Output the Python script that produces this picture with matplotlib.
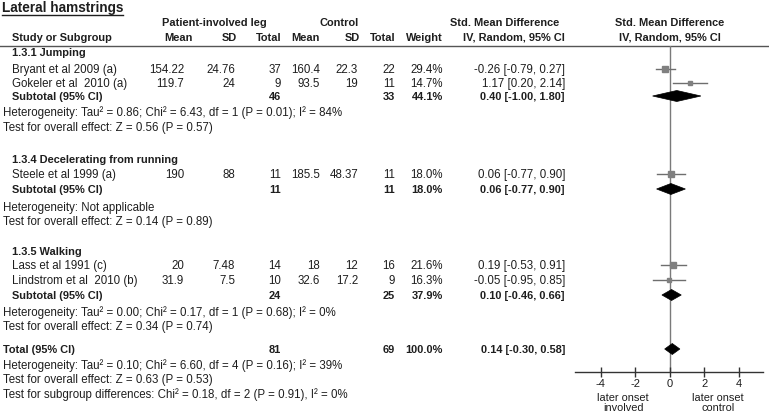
import numpy as np
import matplotlib.pyplot as plt
from matplotlib.patches import Polygon

plt.rcParams['font.family'] = ['Liberation Sans', 'DejaVu Sans']

# ---- data ----
study_names = ["Bryant et al 2009 (a)", "Gokeler et al  2010 (a)", "Steele et al 1999 (a)",
               "Lass et al 1991 (c)", "Lindstrom et al  2010 (b)"]
pat_mean = ["154.22", "119.7", "190", "20", "31.9"]
pat_sd = ["24.76", "24", "88", "7.48", "7.5"]
pat_n = [37, 9, 11, 14, 10]
ctl_mean = ["160.4", "93.5", "185.5", "18", "32.6"]
ctl_sd = ["22.3", "19", "48.37", "12", "17.2"]
ctl_n = [22, 11, 11, 16, 9]
weight = [29.4, 14.7, 18.0, 21.6, 16.3]
smd = [-0.26, 1.17, 0.06, 0.19, -0.05]
smd_lo = [-0.79, 0.20, -0.77, -0.53, -0.95]
smd_hi = [0.27, 2.14, 0.90, 0.91, 0.85]

sub_names = ["1.3.1 Jumping", "1.3.4 Decelerating from running", "1.3.5 Walking"]
sub_pat_n = [46, 11, 24]
sub_ctl_n = [33, 11, 25]
sub_weight = [44.1, 18.0, 37.9]
sub_smd = [0.40, 0.06, 0.10]
sub_lo = [-1.00, -0.77, -0.46]
sub_hi = [1.80, 0.90, 0.66]
sub_het = ["Heterogeneity: Tau\u00b2 = 0.86; Chi\u00b2 = 6.43, df = 1 (P = 0.01); I\u00b2 = 84%",
           "Heterogeneity: Not applicable",
           "Heterogeneity: Tau\u00b2 = 0.00; Chi\u00b2 = 0.17, df = 1 (P = 0.68); I\u00b2 = 0%"]
sub_z = ["Test for overall effect: Z = 0.56 (P = 0.57)",
         "Test for overall effect: Z = 0.14 (P = 0.89)",
         "Test for overall effect: Z = 0.34 (P = 0.74)"]

tot_pat_n, tot_ctl_n, tot_weight = 81, 69, 100.0
tot_smd, tot_lo, tot_hi = 0.14, -0.30, 0.58
tot_notes = ["Heterogeneity: Tau\u00b2 = 0.10; Chi\u00b2 = 6.60, df = 4 (P = 0.16); I\u00b2 = 39%",
             "Test for overall effect: Z = 0.63 (P = 0.53)",
             "Test for subgroup differences: Chi\u00b2 = 0.18, df = 2 (P = 0.91), I\u00b2 = 0%"]

ticks = [-4, -2, 0, 2, 4]
favours = ["later onset\ninvolved", "later onset\ncontrol"]

# ---- layout (pixel rows) ----
sub_head_y = [53, 160, 252]
study_y = [70, 84, 175, 266, 281]
sub_tot_y = [97, 190, 296]
sub_het_y = [113, 208, 313]
sub_z_y = [128, 222, 327]
tot_y = 350
tot_notes_y = [366, 380, 395]

TXT = '#1e1e1e'
FS = 8.3
FSB = 7.9
col_x = dict(pmean=184, psd=235, pn=281, cmean=320, csd=358, cn=395, w=443, ci=565)

fig = plt.figure(figsize=(7.69, 4.14), dpi=100)
ax = fig.add_axes([0, 0, 1, 1])
ax.set_xlim(0, 769)
ax.set_ylim(414, 0)
ax.axis('off')


def t(x, y, s, ha='left', bold=False):
    ax.text(x, y, s, ha=ha, va='center', fontsize=FSB if bold else FS, color=TXT,
            fontweight='bold' if bold else 'normal')


# title with underline
title = ax.text(2, 8, "Lateral hamstrings", ha='left', va='center', fontsize=9.8,
                fontweight='bold', color=TXT)
fig.canvas.draw()
bb = title.get_window_extent(fig.canvas.get_renderer())
ax.plot([2, 2 + bb.width], [15.5, 15.5], color=TXT, lw=1.0)

# headers
t(214, 23, "Patient-involved leg", ha='center', bold=True)
t(339, 23, "Control", ha='center', bold=True)
t(505, 23, "Std. Mean Difference", ha='center', bold=True)
t(670, 23, "Std. Mean Difference", ha='center', bold=True)
t(12, 38, "Study or Subgroup", bold=True)
t(193, 38, "Mean", ha='right', bold=True)
t(237, 38, "SD", ha='right', bold=True)
t(282, 38, "Total", ha='right', bold=True)
t(320, 38, "Mean", ha='right', bold=True)
t(360, 38, "SD", ha='right', bold=True)
t(395, 38, "Total", ha='right', bold=True)
t(443, 38, "Weight", ha='right', bold=True)
t(565, 38, "IV, Random, 95% CI", ha='right', bold=True)
t(670, 38, "IV, Random, 95% CI", ha='center', bold=True)
ax.axhline(46.5, color='#555555', lw=1.0)

# studies
for i, y in enumerate(study_y):
    t(12, y, study_names[i])
    t(col_x['pmean'], y, pat_mean[i], ha='right')
    t(col_x['psd'], y, pat_sd[i], ha='right')
    t(col_x['pn'], y, str(pat_n[i]), ha='right')
    t(col_x['cmean'], y, ctl_mean[i], ha='right')
    t(col_x['csd'], y, ctl_sd[i], ha='right')
    t(col_x['cn'], y, str(ctl_n[i]), ha='right')
    t(col_x['w'], y, f"{weight[i]:.1f}%", ha='right')
    t(col_x['ci'], y, f"{smd[i]:.2f} [{smd_lo[i]:.2f}, {smd_hi[i]:.2f}]", ha='right')

# subgroups
for g in range(len(sub_names)):
    t(12, sub_head_y[g], sub_names[g], bold=True)
    y = sub_tot_y[g]
    t(12, y, "Subtotal (95% CI)", bold=True)
    t(col_x['pn'], y, str(sub_pat_n[g]), ha='right', bold=True)
    t(col_x['cn'], y, str(sub_ctl_n[g]), ha='right', bold=True)
    t(col_x['w'], y, f"{sub_weight[g]:.1f}%", ha='right', bold=True)
    t(col_x['ci'], y, f"{sub_smd[g]:.2f} [{sub_lo[g]:.2f}, {sub_hi[g]:.2f}]", ha='right', bold=True)
    t(3, sub_het_y[g], sub_het[g])
    t(3, sub_z_y[g], sub_z[g])

# total
t(3, tot_y, "Total (95% CI)", bold=True)
t(col_x['pn'], tot_y, str(tot_pat_n), ha='right', bold=True)
t(col_x['cn'], tot_y, str(tot_ctl_n), ha='right', bold=True)
t(col_x['w'], tot_y, f"{tot_weight:.1f}%", ha='right', bold=True)
t(col_x['ci'], tot_y, f"{tot_smd:.2f} [{tot_lo:.2f}, {tot_hi:.2f}]", ha='right', bold=True)
for s, y in zip(tot_notes, tot_notes_y):
    t(3, y, s)

# ---- forest plot ----
fx0, fx1, fy0, fy1 = 575, 763, 46.5, 373
fa = fig.add_axes([fx0 / 769, (414 - fy1) / 414, (fx1 - fx0) / 769, (fy1 - fy0) / 414])
fa.set_xlim(-5.5, 5.4)
fa.set_ylim(fy1, fy0)
fa.patch.set_alpha(0)
for sp in ['top', 'left', 'right']:
    fa.spines[sp].set_visible(False)
fa.spines['bottom'].set_color('#333333')
fa.spines['bottom'].set_linewidth(1.0)
fa.set_yticks([])
fa.set_xticks(ticks)
fa.set_xticklabels([str(v) for v in ticks])
fa.tick_params(axis='x', direction='inout', length=7, width=1.0, color='#333333',
               labelsize=8.0, labelcolor=TXT, pad=0.5)
fa.axvline(0, color='#7a7a7a', lw=1.0, zorder=1)

for i, y in enumerate(study_y):
    fa.plot([smd_lo[i], smd_hi[i]], [y, y], color='#6e6e6e', lw=1.0, zorder=2)
    fa.plot(smd[i], y, marker='s', ms=0.87 * np.sqrt(weight[i]), color='#808080',
            mec='#808080', zorder=3)


def diamond(c, lo, hi, y, h=11):
    fa.add_patch(Polygon([[lo, y], [c, y - h / 2], [hi, y], [c, y + h / 2]],
                         closed=True, facecolor='black', edgecolor='black', lw=0.5, zorder=4))


for g in range(len(sub_names)):
    diamond(sub_smd[g], sub_lo[g], sub_hi[g], sub_tot_y[g])
diamond(tot_smd, tot_lo, tot_hi, tot_y)

for xv, s in zip([-2.7, 2.8], favours):
    fa.text(xv, 403, s, ha='center', va='center', fontsize=7.9, color=TXT,
            linespacing=0.95, clip_on=False)

fig.savefig("out.png", dpi=100)
